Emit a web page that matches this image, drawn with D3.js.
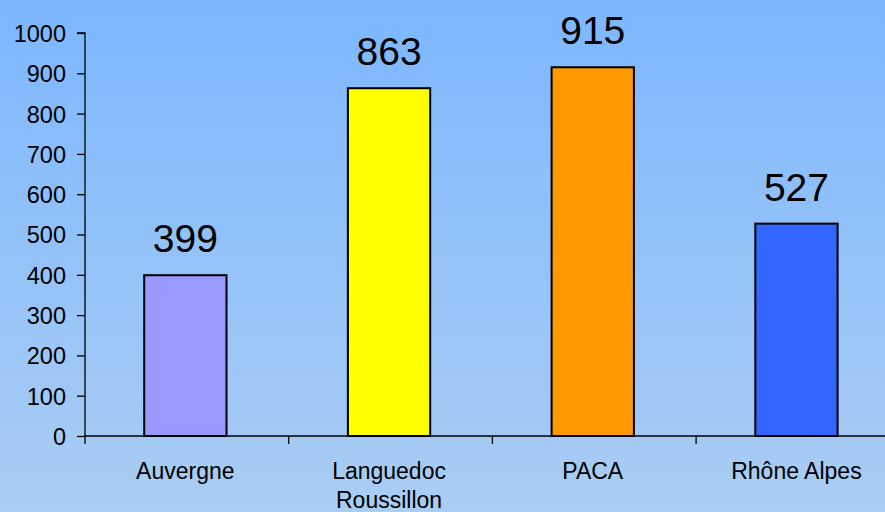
<!DOCTYPE html>
<html><head><meta charset="utf-8">
<script src="https://cdn.jsdelivr.net/npm/d3@7"></script>
<style>body{margin:0;overflow:hidden}svg{display:block}</style>
</head><body>
<script>
const categories = ["Auvergne", "Languedoc\nRoussillon", "PACA", "Rhône Alpes"];
const values = [399, 863, 915, 527];
const colors = ["#9999FF", "#FFFF00", "#FF9900", "#3366FF"];
const yTicks = [0,100,200,300,400,500,600,700,800,900,1000];

const W = 885, H = 512;
const x0 = 85, y0 = 436, yTop = 33;
const step = 203.7;
const svg = d3.select("body").append("svg").attr("width", W).attr("height", H)
  .style("font-family", "'Liberation Sans', Arial, sans-serif");

const defs = svg.append("defs");
const g = defs.append("linearGradient").attr("id","bg").attr("x1",0).attr("y1",0).attr("x2",0).attr("y2",1);
g.append("stop").attr("offset","0%").attr("stop-color","#7DB7FF");
g.append("stop").attr("offset","100%").attr("stop-color","#AACDF2");
svg.append("rect").attr("width",W).attr("height",H).attr("fill","url(#bg)");

const x = d3.scaleBand().domain(categories).range([x0 - 1.5, x0 - 1.5 + step*categories.length]).paddingInner(0.596).paddingOuter(0.298);
const y = d3.scaleLinear().domain([0,1000]).range([y0, yTop]);

// bars
svg.selectAll("rect.bar").data(values).join("rect").attr("class","bar")
  .attr("x",(d,i)=>x(categories[i])).attr("width",x.bandwidth())
  .attr("y",d=>y(d)).attr("height",d=>y0-y(d))
  .attr("fill",(d,i)=>colors[i]).attr("stroke","#000").attr("stroke-width",2);

// value labels
svg.selectAll("text.val").data(values).join("text").attr("class","val")
  .attr("x",(d,i)=>x(categories[i])+x.bandwidth()/2).attr("y",d=>y(d)-23)
  .attr("text-anchor","middle").attr("font-size",39).attr("fill","#000").text(d=>d);

// y axis
const yAxis = d3.axisLeft(y).tickValues(yTicks).tickSize(8).tickPadding(11).tickFormat(d3.format("d"));
const ya = svg.append("g").attr("transform",`translate(${x0},0)`).call(yAxis);
ya.select(".domain").attr("stroke","#000").attr("stroke-width",1.3).attr("d",`M-8,${yTop}H0V${y0}`);
ya.selectAll(".tick line").attr("stroke","#000").attr("stroke-width",1.3);
ya.selectAll(".tick text").attr("font-size",23.5).attr("fill","#000").attr("font-family","'Liberation Sans', Arial, sans-serif").attr("dy","0.36em");

// x axis
const xa = svg.append("g").attr("transform",`translate(0,${y0})`);
xa.append("line").attr("x1",x0).attr("x2",W).attr("y1",0).attr("y2",0).attr("stroke","#000").attr("stroke-width",1.3);
const bounds = d3.range(categories.length+1).map(i=>x0+i*step);
xa.selectAll("line.t").data(bounds).join("line").attr("class","t")
  .attr("x1",d=>d).attr("x2",d=>d).attr("y1",0).attr("y2",8).attr("stroke","#000").attr("stroke-width",1.3);
const lbl = xa.selectAll("text.cat").data(categories).join("text").attr("class","cat")
  .attr("x",d=>x(d)+x.bandwidth()/2).attr("y",43).attr("text-anchor","middle")
  .attr("font-size",23).attr("fill","#000");
lbl.each(function(d){
  const t = d3.select(this);
  d.split("\n").forEach((s,i)=>t.append("tspan").attr("x",x(d)+x.bandwidth()/2).attr("dy",i?29:0).text(s));
});
</script>
</body></html>
